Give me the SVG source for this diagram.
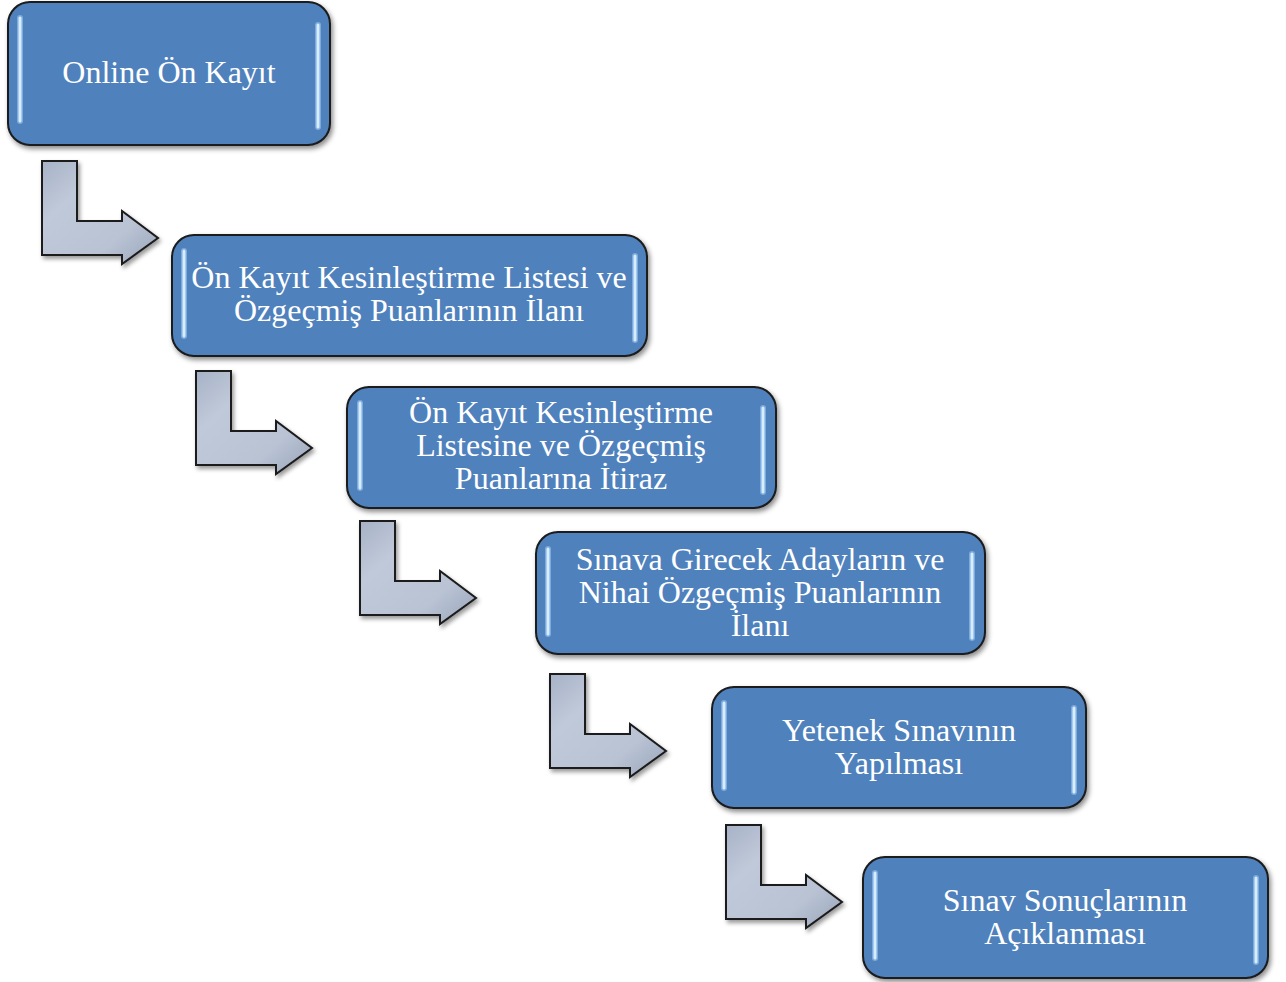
<svg xmlns="http://www.w3.org/2000/svg" width="1286" height="982" viewBox="0 0 1286 982">
<style>
.box{fill:#4f81bd;stroke:#1a1a1a;stroke-width:2;filter:url(#sh)}
.hl{stroke:#d6ecff;stroke-width:3;stroke-linecap:round;fill:none}
.glow{stroke:#9cc6f0;stroke-width:6;stroke-linecap:round;fill:none;opacity:0.6}
.lbl{font-family:"Liberation Serif","Times New Roman",serif;font-size:32px;fill:#ffffff;text-anchor:middle}
.arr{fill:url(#ag);stroke:#1a1a1a;stroke-width:2;stroke-linejoin:miter;filter:url(#sh2)}
</style>
<defs>
<filter id="sh" x="-10%" y="-10%" width="125%" height="130%">
<feDropShadow dx="2" dy="3" stdDeviation="2.5" flood-color="#000" flood-opacity="0.45"/>
</filter>
<filter id="sh2" x="-10%" y="-10%" width="130%" height="130%">
<feDropShadow dx="2" dy="3" stdDeviation="2" flood-color="#000" flood-opacity="0.4"/>
</filter>
<linearGradient id="ag" x1="0" y1="0" x2="1" y2="1">
<stop offset="0" stop-color="#a7b2c7"/>
<stop offset="0.3" stop-color="#c0c9d9"/>
<stop offset="0.7" stop-color="#b9c3d4"/>
<stop offset="1" stop-color="#98a4ba"/>
</linearGradient>
<path id="bent" d="M0,0 H35 V60 H80 V50 L116,77 L80,103 V94 H0 Z"/>
</defs>

<g id="connectors">
<use href="#bent" class="arr" x="42" y="161"/>
<use href="#bent" class="arr" x="196" y="371"/>
<use href="#bent" class="arr" x="360" y="521"/>
<use href="#bent" class="arr" x="550" y="674"/>
<use href="#bent" class="arr" x="726" y="825"/>
</g>

<g id="n1">
<rect class="box" x="8" y="2" width="322" height="143" rx="22"/>
<line class="glow" x1="20" y1="18" x2="20" y2="121"/><line class="hl" x1="20" y1="18" x2="20" y2="121"/>
<line class="glow" x1="318" y1="25" x2="318" y2="127"/><line class="hl" x1="318" y1="25" x2="318" y2="127"/>
<text class="lbl" x="169" y="83">Online Ön Kayıt</text>
</g>

<g id="n2">
<rect class="box" x="172" y="235" width="475" height="121" rx="22"/>
<line class="glow" x1="184" y1="251" x2="184" y2="336"/><line class="hl" x1="184" y1="251" x2="184" y2="336"/>
<line class="glow" x1="635" y1="256" x2="635" y2="340"/><line class="hl" x1="635" y1="256" x2="635" y2="340"/>
<text class="lbl" x="409" y="288">Ön Kayıt Kesinleştirme Listesi ve</text>
<text class="lbl" x="409" y="321">Özgeçmiş Puanlarının İlanı</text>
</g>

<g id="n3">
<rect class="box" x="347" y="387" width="429" height="121" rx="22"/>
<line class="glow" x1="360" y1="403" x2="360" y2="488"/><line class="hl" x1="360" y1="403" x2="360" y2="488"/>
<line class="glow" x1="763" y1="408" x2="763" y2="492"/><line class="hl" x1="763" y1="408" x2="763" y2="492"/>
<text class="lbl" x="561" y="423">Ön Kayıt Kesinleştirme</text>
<text class="lbl" x="561" y="456">Listesine ve Özgeçmiş</text>
<text class="lbl" x="561" y="489">Puanlarına İtiraz</text>
</g>

<g id="n4">
<rect class="box" x="536" y="532" width="449" height="122" rx="22"/>
<line class="glow" x1="548" y1="549" x2="548" y2="634"/><line class="hl" x1="548" y1="549" x2="548" y2="634"/>
<line class="glow" x1="972" y1="554" x2="972" y2="638"/><line class="hl" x1="972" y1="554" x2="972" y2="638"/>
<text class="lbl" x="760" y="570">Sınava Girecek Adayların ve</text>
<text class="lbl" x="760" y="603">Nihai Özgeçmiş Puanlarının</text>
<text class="lbl" x="760" y="636">İlanı</text>
</g>

<g id="n5">
<rect class="box" x="712" y="687" width="374" height="121" rx="22"/>
<line class="glow" x1="724" y1="703" x2="724" y2="788"/><line class="hl" x1="724" y1="703" x2="724" y2="788"/>
<line class="glow" x1="1074" y1="708" x2="1074" y2="792"/><line class="hl" x1="1074" y1="708" x2="1074" y2="792"/>
<text class="lbl" x="899" y="741">Yetenek Sınavının</text>
<text class="lbl" x="899" y="774">Yapılması</text>
</g>

<g id="n6">
<rect class="box" x="863" y="857" width="405" height="121" rx="22"/>
<line class="glow" x1="875" y1="873" x2="875" y2="958"/><line class="hl" x1="875" y1="873" x2="875" y2="958"/>
<line class="glow" x1="1256" y1="878" x2="1256" y2="962"/><line class="hl" x1="1256" y1="878" x2="1256" y2="962"/>
<text class="lbl" x="1065" y="911">Sınav Sonuçlarının</text>
<text class="lbl" x="1065" y="944">Açıklanması</text>
</g>
</svg>
